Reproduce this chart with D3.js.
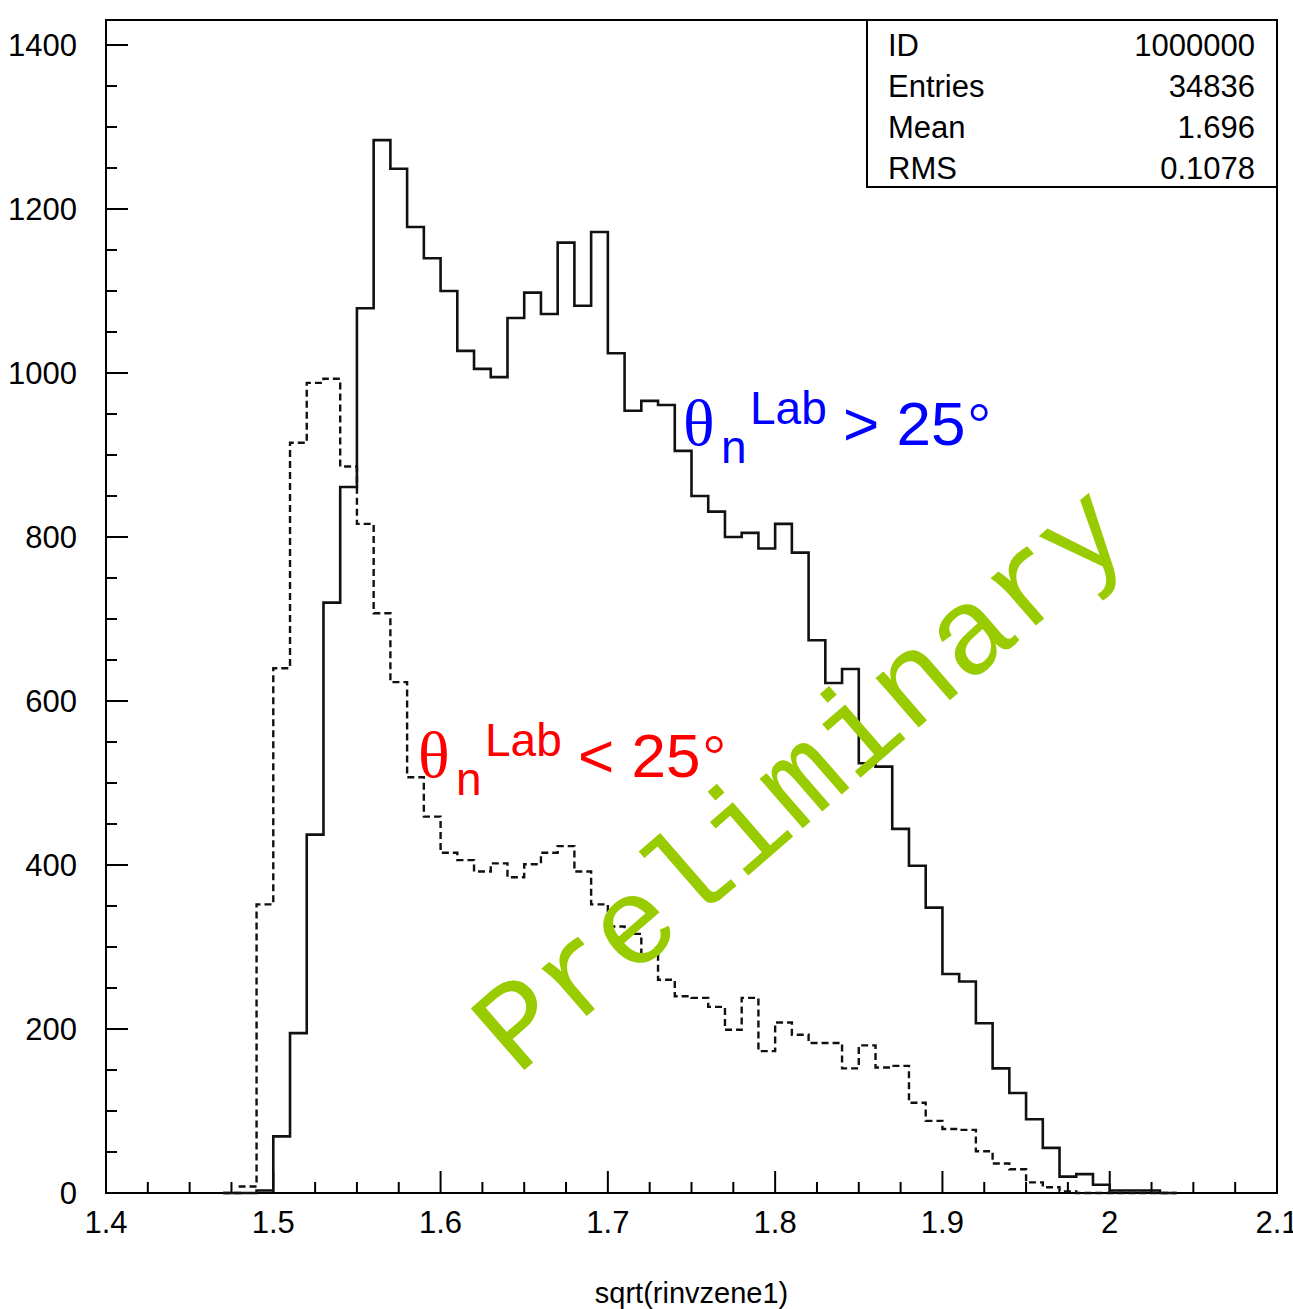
<!DOCTYPE html>
<html><head><meta charset="utf-8">
<script src="https://cdn.jsdelivr.net/npm/d3@7"></script>
<style>
html,body{margin:0;padding:0;background:#fff;}
svg{display:block;}
</style></head>
<body>
<svg id="chart" width="1293" height="1309"></svg>
<script>
// ---- data ----
const binLow = [1.47,1.48,1.49,1.50,1.51,1.52,1.53,1.54,1.55,1.56,1.57,1.58,1.59,
  1.60,1.61,1.62,1.63,1.64,1.65,1.66,1.67,1.68,1.69,1.70,1.71,1.72,1.73,1.74,1.75,
  1.76,1.77,1.78,1.79,1.80,1.81,1.82,1.83,1.84,1.85,1.86,1.87,1.88,1.89,1.90,1.91,
  1.92,1.93,1.94,1.95,1.96,1.97,1.98,1.99,2.00,2.01,2.02,2.03];
const binWidth = 0.01;
const countsHigh = [0,0,3,69,195,437,720,861,1079,1284,1249,1178,1140,
  1100,1027,1005,995,1067,1098,1072,1159,1082,1172,1024,954,966,961,905,850,
  831,800,805,786,816,781,674,622,639,524,520,444,399,348,267,258,
  207,152,122,90,55,20,23,10,3,3,3,0];
const countsLow = [0,8,352,640,915,988,993,886,816,707,623,507,459,
  415,406,392,402,385,401,415,423,392,352,325,316,290,260,240,238,
  227,199,238,173,208,193,183,183,152,180,153,155,110,88,78,77,
  51,36,29,13,7,2,0,0,0,0,0,0];
const xTicks = [1.4,1.5,1.6,1.7,1.8,1.9,2.0,2.1];
const xTickLabels = ["1.4","1.5","1.6","1.7","1.8","1.9","2","2.1"];
const yTicks = [0,200,400,600,800,1000,1200,1400];
const statNames = ["ID","Entries","Mean","RMS"];
const statValues = ["1000000","34836","1.696","0.1078"];
const xTitle = "sqrt(rinvzene1)";

// ---- layout ----
const svg = d3.select("#chart");
const L = 106, R = 1277, T = 20, B = 1193;
const x = d3.scaleLinear().domain([1.4, 2.1]).range([L, R]);
const y = d3.scaleLinear().domain([0, 1400]).range([B, 45]);
const font = "'Liberation Sans', Arial, sans-serif";

// frame
svg.append("rect").attr("x", L).attr("y", T).attr("width", R - L).attr("height", B - T)
  .attr("fill", "none").attr("stroke", "#000").attr("stroke-width", 2);

// y axis ticks (inside, pointing right)
const yMinor = d3.range(0, 1401, 50);
svg.append("g").selectAll("line").data(yMinor).join("line")
  .attr("x1", L).attr("x2", d => L + (d % 200 === 0 ? 22 : 11))
  .attr("y1", d => y(d)).attr("y2", d => y(d))
  .attr("stroke", "#000").attr("stroke-width", 2);
svg.append("g").selectAll("text").data(yTicks).join("text")
  .attr("x", 77).attr("y", d => y(d) + 11)
  .attr("text-anchor", "end").attr("font-family", font).attr("font-size", 31)
  .attr("fill", "#000").text(d => d);

// x axis ticks (inside, pointing up)
const xMinor = d3.range(0, 29).map(i => 1.4 + i * 0.025);
svg.append("g").selectAll("line").data(xMinor).join("line")
  .attr("x1", d => x(d)).attr("x2", d => x(d))
  .attr("y1", B).attr("y2", (d, i) => B - (i % 4 === 0 ? 22 : 11))
  .attr("stroke", "#000").attr("stroke-width", 2);
svg.append("g").selectAll("text").data(xTicks).join("text")
  .attr("x", d => x(d)).attr("y", 1233)
  .attr("text-anchor", "middle").attr("font-family", font).attr("font-size", 31)
  .attr("fill", "#000").text((d, i) => xTickLabels[i]);
svg.append("text").attr("x", x(1.75)).attr("y", 1303)
  .attr("text-anchor", "middle").attr("font-family", font).attr("font-size", 29)
  .attr("fill", "#000").text(xTitle);

// histogram step paths
function stepPath(counts) {
  const p = d3.path();
  p.moveTo(x(binLow[0]), y(0));
  counts.forEach((c, i) => {
    p.lineTo(x(binLow[i]), y(c));
    p.lineTo(x(binLow[i] + binWidth), y(c));
  });
  p.lineTo(x(binLow[binLow.length - 1] + binWidth), y(0));
  return p.toString();
}
svg.append("path").attr("d", stepPath(countsLow))
  .attr("fill", "none").attr("stroke", "#111").attr("stroke-width", 2.4)
  .attr("stroke-dasharray", "7,4");
svg.append("path").attr("d", stepPath(countsHigh))
  .attr("fill", "none").attr("stroke", "#111").attr("stroke-width", 2.6);

// stats box
svg.append("rect").attr("x", 867).attr("y", T).attr("width", R - 867).attr("height", 167)
  .attr("fill", "#fff").attr("stroke", "#000").attr("stroke-width", 2);
const sb = svg.append("g");
statNames.forEach((n, i) => {
  sb.append("text").attr("x", 888).attr("y", 56 + i * 41)
    .attr("font-family", font).attr("font-size", 31).attr("fill", "#000").text(n);
  sb.append("text").attr("x", 1255).attr("y", 56 + i * 41).attr("text-anchor", "end")
    .attr("font-family", font).attr("font-size", 31).attr("fill", "#000").text(statValues[i]);
});

// annotations
function label(x0, base, color, rel) {
  const g = svg.append("g").attr("fill", color);
  g.append("text").attr("x", x0).attr("y", base)
    .attr("font-family", "'Liberation Serif', 'Times New Roman', serif").attr("font-size", 66).text("θ");
  g.append("text").attr("x", x0 + 38).attr("y", base + 18)
    .attr("font-family", font).attr("font-size", 46).text("n");
  g.append("text").attr("x", x0 + 67).attr("y", base - 21)
    .attr("font-family", font).attr("font-size", 46).text("Lab");
  g.append("text").attr("x", x0 + 160).attr("y", base)
    .attr("font-family", font).attr("font-size", 62).text(rel + " 25");
  g.append("text").attr("x", x0 + 285).attr("y", base - 3)
    .attr("font-family", "'Liberation Serif', serif").attr("font-size", 56).text("°");
}
label(683, 445, "#0000ff", ">");
label(418, 777, "#ff0000", "<");

// watermark
svg.append("text")
  .attr("transform", "translate(826,808) rotate(-41)")
  .attr("text-anchor", "middle")
  .attr("font-family", "'Liberation Mono', 'Courier New', monospace")
  .attr("font-size", 124).attr("fill", "#99cc00").text("Preliminary");
</script>
</body></html>
